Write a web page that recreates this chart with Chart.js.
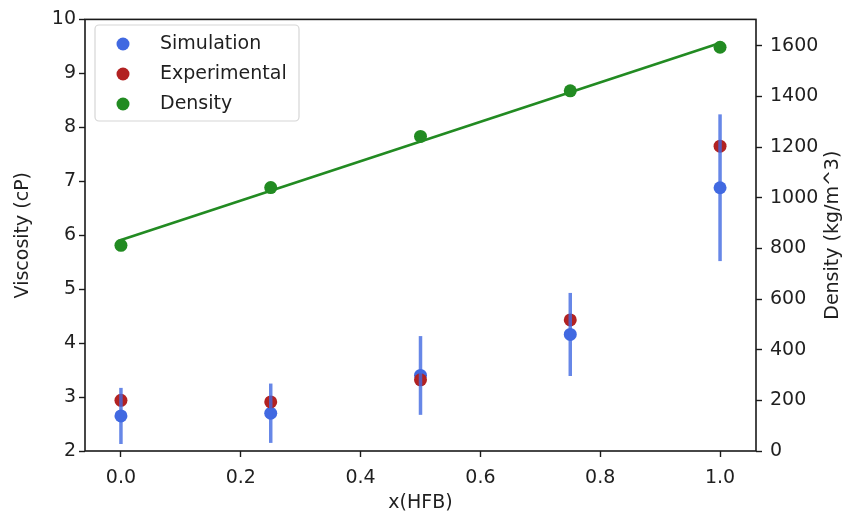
<!DOCTYPE html>
<html>
<head>
<meta charset="utf-8">
<script src="https://cdn.jsdelivr.net/npm/chart.js@4.4.0/dist/chart.umd.min.js"></script>
<style>
html,body{margin:0;padding:0;background:#fff;}
#wrap{width:845px;height:517px;}
</style>
</head>
<body>
<div id="wrap"><canvas id="c" width="845" height="517"></canvas></div>
<script>
// ---- data ----
const xValues = [0.0, 0.25, 0.5, 0.75, 1.0];
const simulation = [2.65, 2.70, 3.40, 4.16, 6.88];
const simulationErr = [0.52, 0.55, 0.73, 0.77, 1.36];
const experimental = [2.94, 2.91, 3.32, 4.43, 7.65];
const density = [812, 1040, 1242, 1422, 1594];
const fitX = [0.0, 1.0];
const fitDensity = [833, 1611];
const xTicks = [0.0, 0.2, 0.4, 0.6, 0.8, 1.0];
const viscTicks = [2, 3, 4, 5, 6, 7, 8, 9, 10];
const densTicks = [0, 200, 400, 600, 800, 1000, 1200, 1400, 1600];
const seriesNames = ['Simulation', 'Experimental', 'Density'];

const FONT = 'DejaVu Sans';
const FS = 19;
const TXT = '#1f1f1f';
const BLUE = '#4169E1', RED = '#B22222', GREEN = '#228B22';

const pts = arr => xValues.map((x, i) => ({x: x, y: arr[i]}));

const errorBars = {
  id: 'errorBars',
  afterDatasetsDraw(chart) {
    const ctx = chart.ctx, xs = chart.scales.x, ys = chart.scales.y;
    ctx.save();
    ctx.strokeStyle = 'rgba(65,105,225,0.8)';
    ctx.lineWidth = 3.5;
    xValues.forEach((x, i) => {
      const px = xs.getPixelForValue(x);
      ctx.beginPath();
      ctx.moveTo(px, ys.getPixelForValue(simulation[i] - simulationErr[i]));
      ctx.lineTo(px, ys.getPixelForValue(simulation[i] + simulationErr[i]));
      ctx.stroke();
    });
    ctx.restore();
  }
};

const frameAndText = {
  id: 'frameAndText',
  afterDraw(chart) {
    const ctx = chart.ctx, a = chart.chartArea;
    ctx.save();
    ctx.strokeStyle = '#1a1a1a';
    ctx.lineWidth = 1.6;
    ctx.strokeRect(a.left, a.top, a.right - a.left, a.bottom - a.top);
    ctx.fillStyle = TXT;
    ctx.font = FS + 'px "' + FONT + '"';
    ctx.textAlign = 'center';
    ctx.textBaseline = 'middle';
    ctx.fillText('x(HFB)', (a.left + a.right) / 2, 503);
    ctx.save();
    ctx.translate(23, (a.top + a.bottom) / 2);
    ctx.rotate(-Math.PI / 2);
    ctx.fillText('Viscosity (cP)', 0, 0);
    ctx.restore();
    ctx.save();
    ctx.translate(833, (a.top + a.bottom) / 2);
    ctx.rotate(-Math.PI / 2);
    ctx.fillText('Density (kg/m^3)', 0, 0);
    ctx.restore();
    // legend
    const lx = 95, ly = 25, lw = 204, lh = 96, r = 4;
    ctx.beginPath();
    ctx.moveTo(lx + r, ly);
    ctx.arcTo(lx + lw, ly, lx + lw, ly + lh, r);
    ctx.arcTo(lx + lw, ly + lh, lx, ly + lh, r);
    ctx.arcTo(lx, ly + lh, lx, ly, r);
    ctx.arcTo(lx, ly, lx + lw, ly, r);
    ctx.closePath();
    ctx.fillStyle = 'rgba(255,255,255,0.8)';
    ctx.fill();
    ctx.strokeStyle = '#d6d6d6';
    ctx.lineWidth = 1.2;
    ctx.stroke();
    const cols = [BLUE, RED, GREEN];
    seriesNames.forEach((n, i) => {
      const yy = 44 + i * 30;
      ctx.beginPath();
      ctx.arc(123, yy, 6.5, 0, Math.PI * 2);
      ctx.fillStyle = cols[i];
      ctx.fill();
      ctx.fillStyle = TXT;
      ctx.textAlign = 'left';
      ctx.fillText(n, 160, yy);
    });
    ctx.restore();
  }
};

const tickCfg = (pad) => ({
  color: TXT, font: {family: FONT, size: FS}, padding: pad
});
const gridCfg = {
  drawOnChartArea: false, drawTicks: true, tickLength: 6,
  tickColor: '#1a1a1a', tickWidth: 1.4
};

new Chart(document.getElementById('c'), {
  data: {
    datasets: [
      {type: 'line', label: 'fit', data: fitX.map((x, i) => ({x: x, y: fitDensity[i]})),
       yAxisID: 'y2', borderColor: GREEN, borderWidth: 2.6, pointRadius: 0, order: 4, fill: false},
      {type: 'scatter', label: seriesNames[0], data: pts(simulation), yAxisID: 'y',
       backgroundColor: BLUE, borderWidth: 0, pointRadius: 6.5, order: 3},
      {type: 'scatter', label: seriesNames[1], data: pts(experimental), yAxisID: 'y',
       backgroundColor: RED, borderWidth: 0, pointRadius: 6.5, order: 2},
      {type: 'scatter', label: seriesNames[2], data: pts(density), yAxisID: 'y2',
       backgroundColor: GREEN, borderWidth: 0, pointRadius: 6.5, order: 1}
    ]
  },
  options: {
    responsive: false, animation: false,
    layout: {padding: {top: 15, left: 0, right: 0, bottom: 0}},
    plugins: {legend: {display: false}, tooltip: {enabled: false}},
    scales: {
      x: {
        type: 'linear', position: 'bottom', min: -0.06, max: 1.06,
        afterBuildTicks: s => { s.ticks = xTicks.map(v => ({value: v})); },
        afterFit: s => { s.height = 66; },
        ticks: Object.assign(tickCfg(10), {callback: v => Number(v).toFixed(1)}),
        grid: gridCfg, border: {display: false}
      },
      y: {
        type: 'linear', position: 'left', min: 2, max: 10,
        afterBuildTicks: s => { s.ticks = viscTicks.map(v => ({value: v})); },
        afterFit: s => { s.width = 85; },
        ticks: Object.assign(tickCfg(3), {callback: v => String(v)}),
        grid: gridCfg, border: {display: false}
      },
      y2: {
        type: 'linear', position: 'right', min: 0, max: 1704,
        afterBuildTicks: s => { s.ticks = densTicks.map(v => ({value: v})); },
        afterFit: s => { s.width = 89; },
        ticks: Object.assign(tickCfg(8), {callback: v => String(v)}),
        grid: gridCfg, border: {display: false}
      }
    }
  },
  plugins: [errorBars, frameAndText]
});
</script>
</body>
</html>
